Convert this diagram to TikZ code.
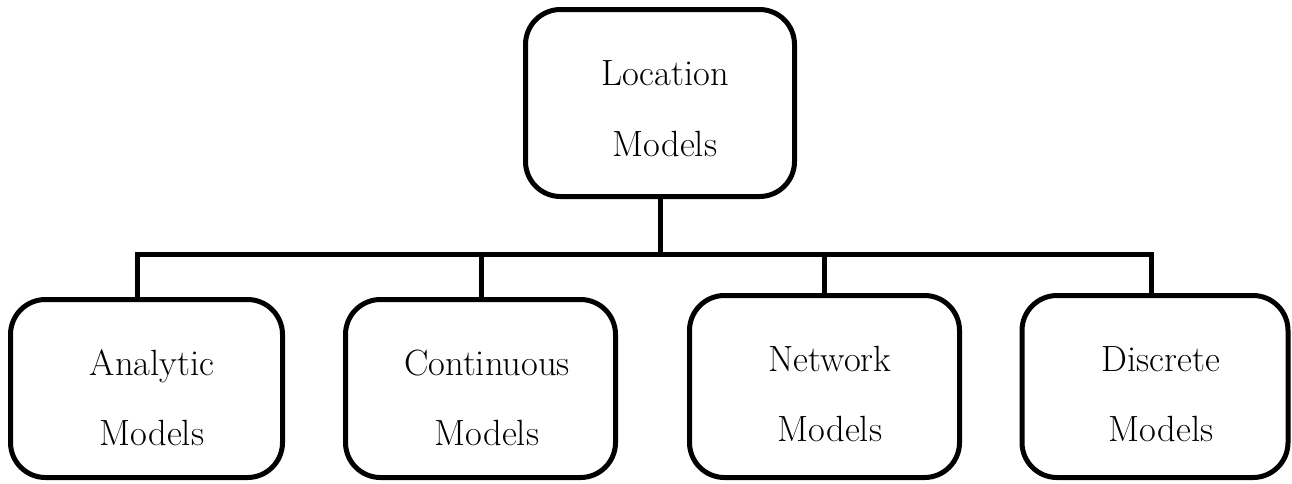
\documentclass[tikz,border=0pt]{standalone}
\usepackage{fontspec}
\begin{document}
\begin{tikzpicture}[x=1pt,y=-1pt,
  box/.style={draw, line width=5pt, rounded corners=35pt, inner sep=0pt},
  lbl/.style={anchor=base, font=\fontsize{36.5}{44}\selectfont},
  conn/.style={line width=5pt}]
\useasboundingbox (0,0) rectangle (1292,483);

% root and leaf boxes
\node[box, minimum width=269pt, minimum height=187pt] (loc) at (660,103) {};
\node[box, minimum width=272pt, minimum height=178pt] (ana) at (146.5,388.5) {};
\node[box, minimum width=270pt, minimum height=178pt] (con) at (480.5,388.5) {};
\node[box, minimum width=270pt, minimum height=182pt] (net) at (824.5,386.5) {};
\node[box, minimum width=266pt, minimum height=182pt] (dis) at (1155,386.5) {};

% labels
\node[lbl] (locA) at (665,85) {Location};
\node[lbl] (locB) at (665,156) {Models};
\node[lbl] (anaA) at (152,375) {Analytic};
\node[lbl] (anaB) at (152,445) {Models};
\node[lbl] (conA) at (487,375) {Continuous};
\node[lbl] (conB) at (487,445) {Models};
\node[lbl] (netA) at (830,371) {Network};
\node[lbl] (netB) at (830,441) {Models};
\node[lbl] (disA) at (1161,371) {Discrete};
\node[lbl] (disB) at (1161,441) {Models};

% bus connectors
\coordinate (bus)  at (660,254);
\coordinate (busL) at (137,254);
\coordinate (busR) at (1151,254);
\coordinate (dropC) at (481,254);
\coordinate (dropN) at (824,254);

\draw[conn] (loc.south) -- (bus);
\draw[conn] (ana.north -| busL) -- (busL) -- (busR) -- (dis.north -| busR);
\draw[conn] (dropC) -- (con.north -| dropC);
\draw[conn] (dropN) -- (net.north -| dropN);
\end{tikzpicture}
\end{document}
